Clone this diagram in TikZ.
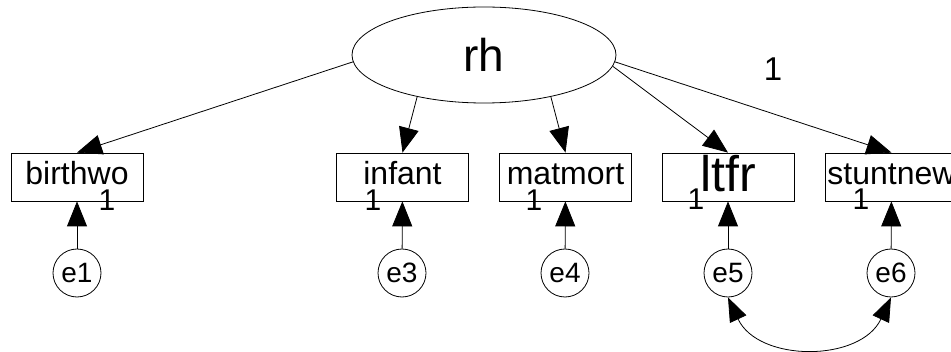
\documentclass[tikz,border=0pt]{standalone}
\usepackage{fontspec}
\setmainfont{Liberation Sans}
\usetikzlibrary{arrows.meta,shapes.geometric}

\tikzset{
  latent/.style={draw, ellipse, line width=0.8pt, inner sep=0pt,
    minimum width=264pt, minimum height=96pt,
    font=\fontsize{46}{46}\selectfont},
  observed/.style={draw, rectangle, line width=0.8pt, inner sep=0pt,
    minimum width=132pt, minimum height=48pt,
    text height=16pt, text depth=0pt,
    font=\fontsize{32}{32}\selectfont},
  errvar/.style={draw, circle, line width=0.8pt, inner sep=0pt,
    minimum size=48pt, text height=20pt, text depth=0pt,
    font=\fontsize{28}{28}\selectfont},
  weight/.style={anchor=base, inner sep=0pt,
    font=\fontsize{30}{30}\selectfont},
  path/.style={line width=0.8pt, -{Triangle[length=25pt,width=20pt]}},
  covpath/.style={line width=0.8pt,
    {Triangle[length=24pt,width=18pt]}-{Triangle[length=24pt,width=18pt]}},
}

\begin{document}
\begin{tikzpicture}[x=1pt,y=1pt]
  \clip (0,0) rectangle (951,351);
  \fill[white] (0,0) rectangle (951,351);

  % latent factor
  \node[latent] (rh) at (484,296) {rh};

  % indicators
  \node[observed] (birthwo)  at (77,174)    {birthwo};
  \node[observed] (infant)   at (402.5,174) {infant};
  \node[observed] (matmort)  at (565.5,174) {matmort};
  \node[observed, text height=30pt,
        font=\fontsize{50}{50}\selectfont] (ltfr) at (728,174) {ltfr};
  \node[observed] (stuntnew) at (891.5,174) {stuntnew};

  % error terms
  \node[errvar] (e1) at (77,78)  {e1};
  \node[errvar] (e3) at (402,78) {e3};
  \node[errvar] (e4) at (565,78) {e4};
  \node[errvar] (e5) at (728,78) {e5};
  \node[errvar] (e6) at (891,78) {e6};

  % factor loadings
  \draw[path] (rh.183) -- (birthwo.north);
  \draw[path] (rh.212) -- (infant.north);
  \draw[path] (rh.328) -- (matmort.north);
  \draw[path] (rh.355) -- (ltfr.north);
  \draw[path] (rh.357) -- (stuntnew.north);

  % error paths
  \draw[path] (e1) -- (birthwo);
  \draw[path] (e3) -- (infant);
  \draw[path] (e4) -- (matmort);
  \draw[path] (e5) -- (ltfr);
  \draw[path] (e6) -- (stuntnew);

  % error covariance
  \draw[covpath] (e5.south) to[out=-65, in=-115, looseness=1.13] (e6.south);

  % fixed weights
  \node[weight] (w1) at (107,140) {1};
  \node[weight] (w3) at (373,140) {1};
  \node[weight] (w4) at (534,140) {1};
  \node[weight] (w5) at (696,141) {1};
  \node[weight] (w6) at (861,141) {1};
  \node[weight, font=\fontsize{33}{33}\selectfont] (w0) at (773,270) {1};
\end{tikzpicture}
\end{document}
